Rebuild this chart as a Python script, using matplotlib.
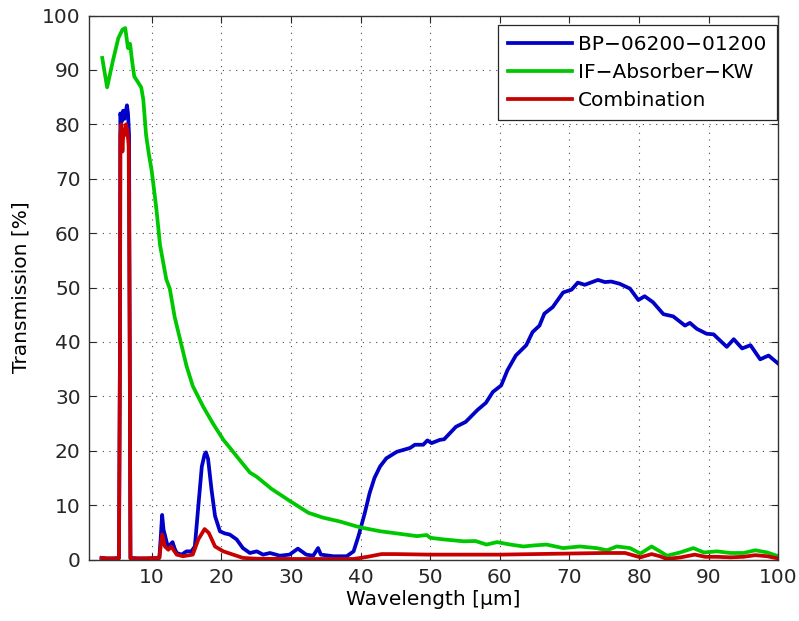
import numpy as np
import matplotlib
matplotlib.use("Agg")
import matplotlib.pyplot as plt

plt.rcParams['font.family'] = ['DejaVu Sans']

# BP-06200-01200 (blue)
bp_x = [2.8, 3.5, 4.5, 5.3, 5.45, 5.5, 5.7, 5.9, 6.1, 6.3, 6.45, 6.6, 6.75, 6.85, 6.95,
        8.0, 9.5, 11.1, 11.3, 11.5, 11.7, 11.9, 12.3, 12.7, 13.0, 13.3, 13.6, 14.3, 15.0,
        15.7, 16.2, 16.7, 17.2, 17.6, 17.8, 18.1, 18.6, 19.1, 19.8, 20.5, 21.2, 22.2, 23.1,
        24.1, 25.1, 26.0, 27.0, 28.4, 29.8, 31.0, 32.2, 33.2, 33.9, 34.3, 36.1, 38.0, 39.0,
        39.7, 40.6, 41.3, 42.0, 42.8, 43.7, 45.2, 47.1, 47.8, 49.0, 49.6, 50.2, 51.4, 52.0,
        53.7, 55.1, 56.8, 58.0, 59.0, 60.2, 61.1, 62.3, 63.8, 64.7, 65.7, 66.4, 67.6, 69.1,
        70.3, 71.2, 72.2, 74.1, 75.1, 76.0, 77.2, 78.7, 79.9, 80.8, 82.0, 83.5, 84.9, 86.6,
        87.3, 88.3, 89.7, 90.7, 91.6, 92.6, 93.6, 94.8, 96.0, 97.4, 98.6, 100.0]
bp_y = [0.3, 0.2, 0.2, 0.3, 40, 82, 80.5, 82.5, 81, 82.5, 83.5, 82, 78, 40, 0.3,
        0.2, 0.2, 0.3, 4, 8.2, 5.5, 4.5, 2.4, 2.8, 3.2, 2.0, 1.2, 0.9, 1.5,
        1.5, 2.4, 9.8, 17.1, 19.3, 19.7, 18.5, 12.8, 8.0, 5.2, 4.8, 4.6, 3.7, 2.1,
        1.2, 1.5, 0.9, 1.2, 0.7, 0.9, 2.0, 0.9, 0.7, 2.1, 0.9, 0.6, 0.6, 1.5,
        4.3, 8.5, 12.2, 15.0, 17.1, 18.6, 19.8, 20.5, 21.1, 21.1, 21.9, 21.4, 22.0, 22.1,
        24.4, 25.3, 27.5, 28.8, 30.8, 32.0, 34.8, 37.5, 39.4, 41.8, 43.0, 45.2, 46.4, 49.1,
        49.6, 50.9, 50.5, 51.4, 51.0, 51.1, 50.7, 49.8, 47.7, 48.4, 47.3, 45.1, 44.7, 43.0,
        43.5, 42.4, 41.5, 41.4, 40.3, 39.1, 40.5, 38.8, 39.4, 36.8, 37.5, 36.0]

# IF-Absorber-KW (green)
if_x = [2.9, 3.6, 4.4, 5.2, 5.8, 6.2, 6.6, 6.9, 7.2, 7.5, 8.0, 8.5, 8.8, 9.2, 9.6, 10.0,
        10.3, 10.7, 11.2, 11.6, 12.1, 12.6, 13.3, 14.0, 15.0, 15.9, 17.4, 18.8, 20.3, 21.2,
        22.7, 24.1, 25.1, 27.2, 29.8, 32.5, 34.6, 37.0, 39.4, 40.4, 42.8, 45.2, 48.1, 49.5,
        50.0, 51.9, 54.8, 56.5, 58.1, 59.6, 61.5, 63.4, 65.0, 66.7, 69.1, 71.5, 73.9, 75.4,
        76.8, 78.7, 80.2, 81.8, 83.0, 84.0, 85.9, 87.8, 89.3, 91.2, 93.1, 95.0, 96.7, 98.4,
        100.0]
if_y = [92.2, 86.8, 91.5, 95.8, 97.4, 97.7, 94.0, 94.8, 91.5, 88.8, 87.8, 86.8, 84.5, 78, 74.5, 71.5,
        68.4, 64.2, 57.8, 55.0, 51.5, 49.8, 44.6, 40.9, 35.6, 31.9, 28.1, 25.0, 22.0, 20.6,
        18.2, 16.0, 15.2, 13.0, 10.8, 8.6, 7.7, 7.0, 6.1, 5.8, 5.2, 4.8, 4.3, 4.5,
        4.0, 3.7, 3.35, 3.4, 2.75, 3.2, 2.75, 2.4, 2.6, 2.75, 2.1, 2.4, 2.1, 1.7,
        2.4, 2.1, 1.1, 2.4, 1.5, 0.7, 1.3, 2.1, 1.3, 1.5, 1.2, 1.2, 1.7, 1.3,
        0.6]

# Combination (red)
comb_x = [2.8, 3.5, 5.3, 5.45, 5.5, 5.65, 5.8, 5.95, 6.1, 6.3, 6.5, 6.7, 6.85, 6.95, 9.0,
          11.1, 11.5, 11.9, 12.4, 12.8, 13.6, 14.5, 15.9, 16.7, 17.6, 18.2, 19.1, 20.3, 21.7,
          23.1, 25, 30, 35, 39, 41, 43, 45, 50, 55, 60, 65, 70, 75, 78, 80.2, 81.8, 83.0,
          84.0, 86.0, 88.0, 89.5, 91.2, 93.1, 95.0, 96.7, 98.4, 100]
comb_y = [0.3, 0.2, 0.2, 38, 78, 80, 75, 79, 78, 80, 79, 76, 38, 0.2, 0.2,
          0.3, 4.6, 2.4, 1.8, 2.4, 0.9, 0.6, 0.9, 3.7, 5.6, 4.9, 2.4, 1.5, 0.9,
          0.3, 0.15, 0.1, 0.1, 0.1, 0.5, 1.0, 1.0, 0.9, 0.9, 0.9, 1.0, 1.1, 1.2, 1.2, 0.4, 1.0, 0.6,
          0.1, 0.4, 0.9, 0.5, 0.5, 0.4, 0.5, 0.8, 0.6, 0.2]

fs = 14.5
fig = plt.figure(figsize=(7.99, 6.21), dpi=100)
ax = fig.add_axes([0.1114, 0.099, 0.8627, 0.876])

ax.plot(bp_x, bp_y, color='#0000c8', lw=2.7, label='BP\u221206200\u221201200')
ax.plot(if_x, if_y, color='#00c800', lw=2.7, label='IF\u2212Absorber\u2212KW')
ax.plot(comb_x, comb_y, color='#c80000', lw=2.7, label='Combination')

ax.set_xlim(1, 100)
ax.set_ylim(0, 100)
ax.set_xticks(np.arange(10, 101, 10))
ax.set_yticks(np.arange(0, 101, 10))
ax.grid(True, linestyle=(0, (1, 5)), color='0.3', linewidth=0.8)
ax.set_axisbelow(True)
ax.tick_params(direction='in', top=True, right=True, length=5, width=0.8,
               labelsize=fs, pad=6, colors='0.15')
for s in ax.spines.values():
    s.set_color('0.2')
    s.set_linewidth(1.0)

ax.set_xlabel('Wavelength [\u00b5m]', fontsize=fs, labelpad=2)
ax.set_ylabel('Transmission [%]', fontsize=fs, labelpad=8)

leg = ax.legend(loc='upper right', bbox_to_anchor=(0.9975, 0.9825), borderaxespad=0,
                fontsize=fs, fancybox=False, framealpha=1, edgecolor='0.15',
                handlelength=3.2, handletextpad=0.3, labelspacing=0.45, borderpad=0.5)
leg.get_frame().set_linewidth(0.9)

fig.savefig('out.png', dpi=100)
